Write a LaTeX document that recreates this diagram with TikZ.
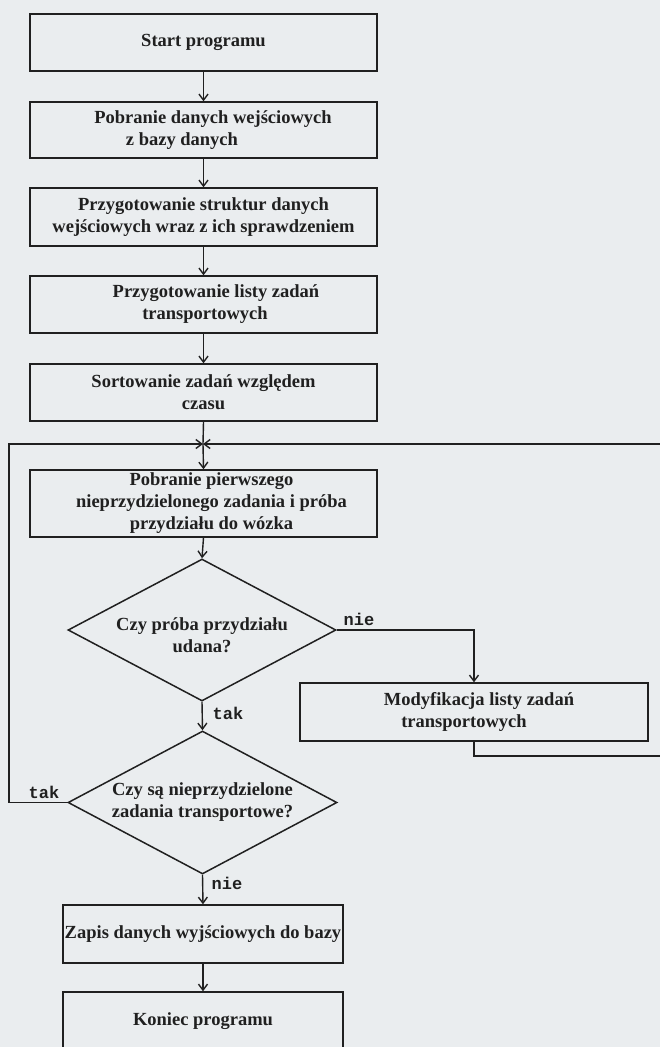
\documentclass[tikz,border=0pt]{standalone}
\usepackage{fontspec}
\setmainfont{Liberation Serif}
\newfontfamily\labelfont{Liberation Mono}
\usetikzlibrary{shapes.geometric,arrows.meta}
\definecolor{bgcol}{RGB}{234,237,239}
\definecolor{ink}{RGB}{32,32,32}
\begin{document}
\begin{tikzpicture}[x=1pt,y=-1pt,
  every node/.style={font=\bfseries\fontsize{18.5}{22}\selectfont, text=ink},
  procbox/.style={draw=ink, line width=1.5pt, rectangle, inner sep=0pt,
    minimum width=347pt, minimum height=57pt, align=center},
  decision/.style={draw=ink, line width=1.5pt, diamond, shape aspect=1.9,
    inner sep=0pt, minimum width=268pt, minimum height=142pt, align=center},
  flow/.style={draw=ink, line width=1.4pt, -{Straight Barb[length=6pt,width=9pt]}},
  plain/.style={draw=ink, line width=1.4pt},
  answer/.style={font=\labelfont\bfseries\fontsize{17}{19}\selectfont, inner sep=0pt}
]
\useasboundingbox (0,0) rectangle (660,1047);
\clip (0,0) rectangle (660,1047);
\fill[bgcol] (0,0) rectangle (660,1047);

\node[procbox] (start) at (203.5,42.5) {Start programu};
\node[procbox, minimum height=56pt] (load) at (203.5,130) {\hspace*{19pt}Pobranie danych wejściowych\\z bazy danych\hspace*{43pt}};
\node[procbox, minimum height=58pt] (prep) at (203.5,217) {Przygotowanie struktur danych\\wejściowych wraz z ich sprawdzeniem};
\node[procbox] (list) at (203.5,304.5) {\hspace*{25pt}Przygotowanie listy zadań\\\hspace*{3pt}transportowych};
\node[procbox] (sort) at (203.5,392.5) {Sortowanie zadań względem\\czasu};
\node[procbox, minimum height=67pt] (take) at (203.5,503.5) {\hspace*{16pt}Pobranie pierwszego\\\hspace*{16pt}nieprzydzielonego zadania i próba\\\hspace*{16pt}przydziału do wózka};
\node[decision] (ok) at (202,630) {\rule{0pt}{24pt}Czy próba przydziału\\udana?};
\node[procbox, minimum width=348pt, minimum height=58pt] (modify) at (474,712) {\hspace*{10pt}Modyfikacja listy zadań\\transportowych\hspace*{20pt}};
\node[decision, minimum width=269pt, minimum height=143pt] (more) at (202.5,802.5) {Czy są nieprzydzielone\\zadania transportowe?};
\node[procbox, minimum width=280pt, minimum height=58pt] (save) at (203,934) {Zapis danych wyjściowych do bazy};
\node[procbox, minimum width=280pt, minimum height=58pt] (stop) at (203,1021) {Koniec programu};

\node[answer] (nie1) at (359,619) {nie};
\node[answer] (tak1) at (228,713) {tak};
\node[answer] (tak2) at (44,792) {tak};
\node[answer] (nie2) at (227,883) {nie};

\coordinate (join) at (203,444);
\coordinate (lt) at (9,444);
\coordinate (rt) at (672,444);
\coordinate (rb) at (672,756);

\draw[flow] (start.south) -- (load.north);
\draw[flow] (load.south) -- (prep.north);
\draw[flow] (prep.south) -- (list.north);
\draw[flow] (list.south) -- (sort.north);
\draw[plain] (sort.south) -- (join);
\draw[flow] (join) -- (take.north);
\draw[flow] (take.south) -- (ok.north);
\draw[flow] (ok.south) -- (more.north);
\draw[flow] (ok.east) -| (modify.north);
\draw[flow] (modify.south) |- (rb) -- (rt) -- (join);
\draw[flow] (more.west) -| (lt) -- (join);
\draw[flow] (more.south) -- (save.north);
\draw[flow] (save.south) -- (stop.north);
\end{tikzpicture}
\end{document}
